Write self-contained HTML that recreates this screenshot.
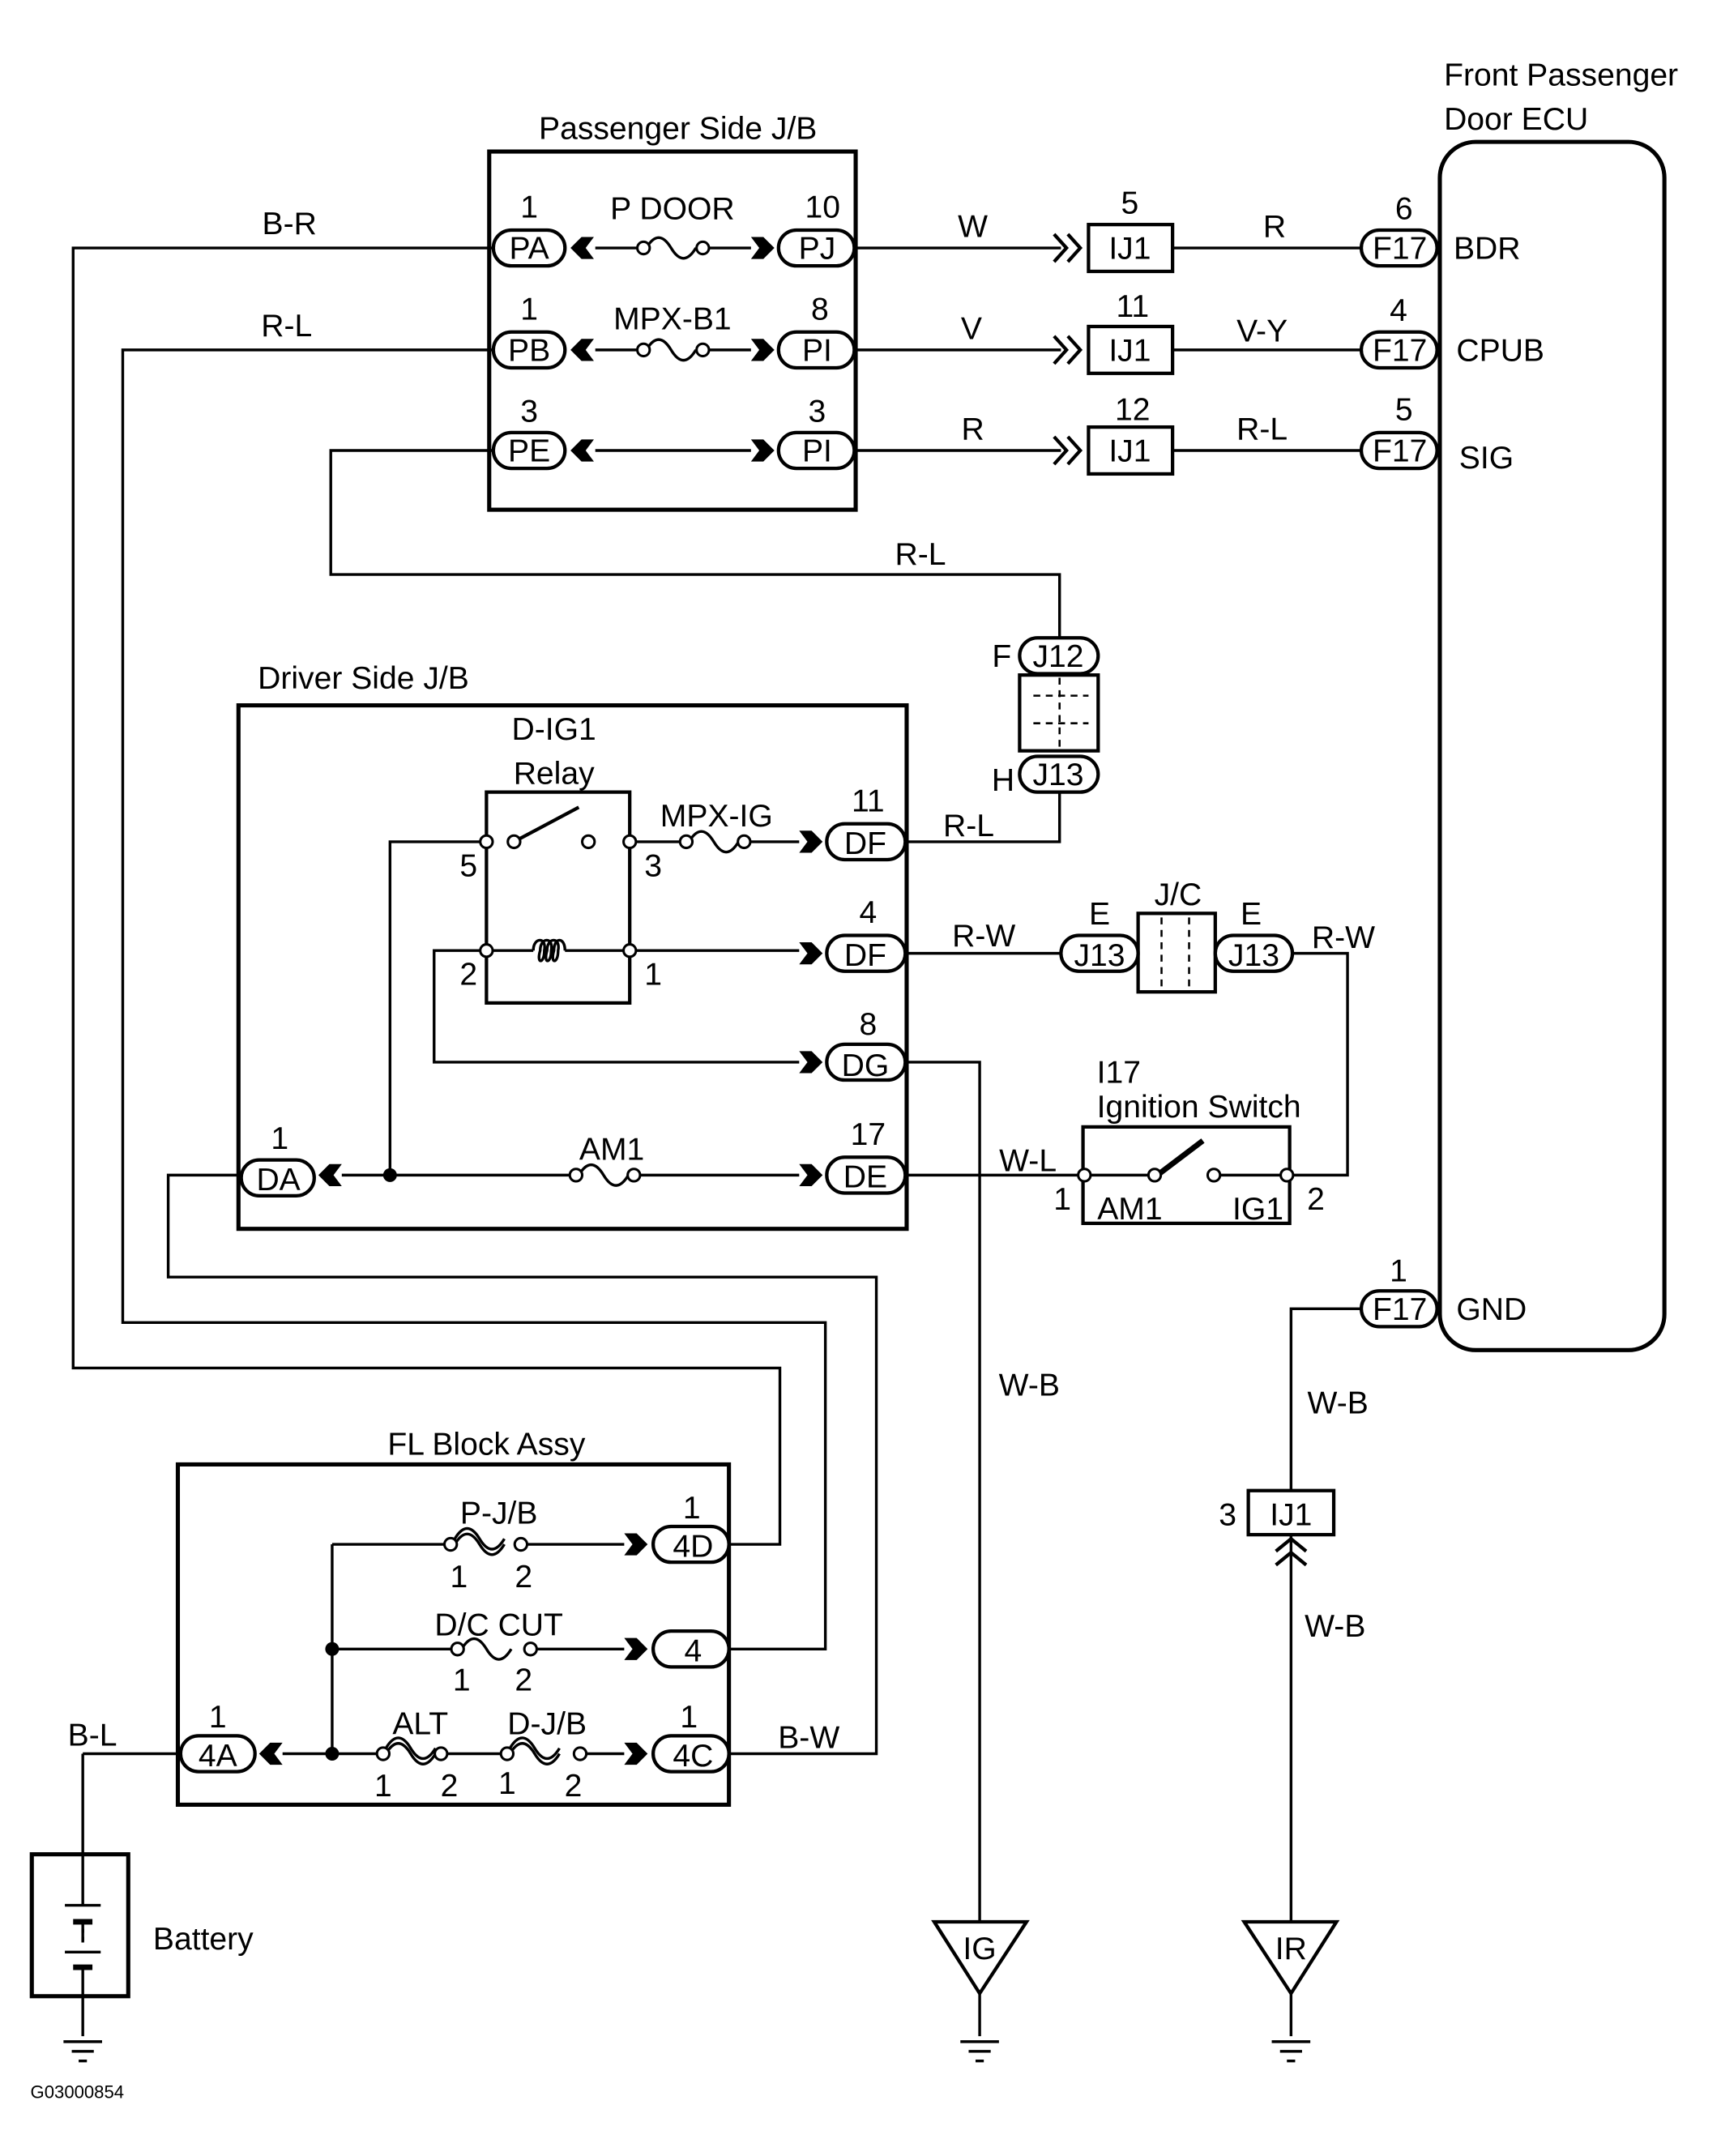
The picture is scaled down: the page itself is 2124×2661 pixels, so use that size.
<!DOCTYPE html>
<html><head><meta charset="utf-8"><style>
html,body{margin:0;padding:0;background:#fff;width:2124px;height:2661px;overflow:hidden}
svg{display:block}
text{font-family:"Liberation Sans",sans-serif;font-size:23px;fill:#000}
</style></head><body>
<svg width="2124" height="2661" viewBox="0 0 1249 1565" xmlns="http://www.w3.org/2000/svg">
<defs>
<polygon id="cr" points="0,-8 9,-8 17,0 9,8 0,8 6,0" fill="#000"/>
<polygon id="cl" points="17,-8 8,-8 0,0 8,8 17,8 11,0" fill="#000"/>
</defs>
<g fill="none" stroke="#000" stroke-width="2">
<rect x="355" y="110" width="266" height="260" stroke-width="3"/>
<rect x="1045" y="103" width="163" height="877" rx="26" stroke-width="3"/>
<rect x="173" y="512" width="485" height="380" stroke-width="3"/>
<rect x="129" y="1063" width="400" height="247" stroke-width="3"/>
<rect x="23" y="1346" width="70" height="103" stroke-width="3"/>
<rect x="786" y="818" width="150" height="70" stroke-width="2.5"/>
<path d="M353 575H457V728H353Z" stroke-width="2.5"/>
<path d="M358 180H53V993H566V1121H530"/>
<path d="M358 254H89V960H599V1197H530"/>
<path d="M358 327H240V417H769V463"/>
<path d="M621 180H770M851 180H988"/>
<path d="M621 254H770M851 254H988"/>
<path d="M621 327H770M851 327H988"/>
<path d="M765 170l9 10l-9 10M775 170l9 10l-9 10" stroke-width="2.5"/>
<path d="M765 244l9 10l-9 10M775 244l9 10l-9 10" stroke-width="2.5"/>
<path d="M765 317l9 10l-9 10M775 317l9 10l-9 10" stroke-width="2.5"/>
<rect x="790" y="163" width="61" height="34" stroke-width="2.5"/>
<rect x="790" y="237" width="61" height="34" stroke-width="2.5"/>
<rect x="790" y="310" width="61" height="34" stroke-width="2.5"/>
<path d="M432 180H463M512 180H545M432 254H463M512 254H545M432 327H545"/>
<rect x="740" y="490" width="57" height="55" stroke-width="2.5"/>
<path d="M750 505H790M750 525H790M769 492V543" stroke-dasharray="5 4" stroke-width="1.5"/>
<path d="M769 575V611H657"/>
<rect x="826" y="663" width="56" height="57" stroke-width="2.5"/>
<path d="M843 666V718M863 666V718" stroke-dasharray="5 4" stroke-width="1.5"/>
<path d="M657 692H770M938 692H978V853H936"/>
<path d="M248 853H415M462 853H580M283 853V611H353M457 611H495M540 611H580"/>
<path d="M353 690H387M410 690H457H580M353 690H315V771H580"/>
<path d="M373 611L420 586" stroke-width="2.5"/>
<path d="M387 690c0,-10 10,-10 8,0c0,10 -6,10 -3,0c0,-10 10,-10 8,0c0,10 -6,10 -3,0c0,-10 10,-10 8,0c0,10 -6,10 -3,0c0,-10 8,-10 8,0"/>
<path d="M657 771H711V1395"/>
<path d="M657 853H786"/>
<path d="M228 853H122V927H636V1273H530"/>
<path d="M787 853H836M880 853H934"/>
<path d="M840 853L873 828" stroke-width="4"/>
<path d="M988 950H937V1082M937 1114V1395"/>
<rect x="906" y="1082" width="62" height="32" stroke-width="2.5"/>
<path d="M926 1126l11 -9l11 9M926 1136l11 -9l11 9" stroke-width="2.5"/>
<path d="M241 1121V1273M241 1121H325M378 1121H453M241 1197H330M385 1197H453M205 1273H275M325 1273H365M423 1273H453"/>
<path d="M60 1273H129M60 1273V1383M60 1395V1410M60 1428V1478"/>
<path d="M47 1383H73M47 1417H73"/>
<path d="M53 1395H67M53 1428H67" stroke-width="4"/>
<path d="M60 1400V1412" stroke-dasharray="3 3"/>
<path d="M46 1482H74M52 1489H68M57 1496H63"/>
<path d="M711 1447V1478M697 1482H725M703 1489H719M708 1496H714"/>
<path d="M937 1447V1478M923 1482H951M929 1489H945M934 1496H940"/>
<polygon points="678,1395 745,1395 711,1447" stroke-width="2.5"/>
<polygon points="903,1395 970,1395 937,1447" stroke-width="2.5"/>
<path d="M469 180c6,-10 12,-10 18,0s12,10 18,0"/>
<path d="M469 254c6,-10 12,-10 18,0s12,10 18,0"/>
<path d="M500 611c6,-10 12,-10 18,0s12,10 18,0"/>
<path d="M420 853c6,-10 12,-10 18,0s12,10 18,0"/>
<path d="M330 1121c6,-10 12,-10 18,0s12,10 18,0M330 1117c6,-10 12,-10 18,0s12,10 18,0"/>
<path d="M335 1197c6,-10 12,-10 18,0s12,10 18,0"/>
<path d="M280 1273c6,-10 12,-10 18,0s12,10 18,0M280 1269c6,-10 12,-10 18,0s12,10 18,0"/>
<path d="M370 1273c6,-10 12,-10 18,0s12,10 18,0M370 1269c6,-10 12,-10 18,0s12,10 18,0"/>
<g stroke-width="2.5" fill="#fff">
<rect x="358" y="167" width="52" height="26" rx="13"/><rect x="565" y="167" width="55" height="26" rx="13"/>
<rect x="358" y="241" width="52" height="26" rx="13"/><rect x="565" y="241" width="55" height="26" rx="13"/>
<rect x="358" y="314" width="52" height="26" rx="13"/><rect x="565" y="314" width="55" height="26" rx="13"/>
<rect x="988" y="167" width="55" height="26" rx="13"/><rect x="988" y="241" width="55" height="26" rx="13"/>
<rect x="988" y="314" width="55" height="26" rx="13"/><rect x="988" y="937" width="55" height="26" rx="13"/>
<rect x="740" y="463" width="57" height="26" rx="13"/><rect x="740" y="549" width="57" height="26" rx="13"/>
<rect x="770" y="679" width="56" height="26" rx="13"/><rect x="882" y="679" width="56" height="26" rx="13"/>
<rect x="600" y="598" width="57" height="26" rx="13"/><rect x="600" y="679" width="57" height="26" rx="13"/>
<rect x="600" y="758" width="57" height="26" rx="13"/><rect x="600" y="840" width="57" height="26" rx="13"/>
<rect x="175" y="842" width="53" height="26" rx="13"/>
<rect x="474" y="1108" width="55" height="26" rx="13"/><rect x="474" y="1184" width="55" height="26" rx="13"/>
<rect x="474" y="1260" width="55" height="26" rx="13"/><rect x="131" y="1260" width="54" height="26" rx="13"/>
</g>
<g fill="#fff" stroke-width="1.8">
<circle cx="467" cy="180" r="4.5"/><circle cx="510" cy="180" r="4.5"/>
<circle cx="467" cy="254" r="4.5"/><circle cx="510" cy="254" r="4.5"/>
<circle cx="353" cy="611" r="4.5"/><circle cx="373" cy="611" r="4.5"/><circle cx="427" cy="611" r="4.5"/><circle cx="457" cy="611" r="4.5"/>
<circle cx="498" cy="611" r="4.5"/><circle cx="540" cy="611" r="4.5"/>
<circle cx="353" cy="690" r="4.5"/><circle cx="457" cy="690" r="4.5"/>
<circle cx="418" cy="853" r="4.5"/><circle cx="460" cy="853" r="4.5"/>
<circle cx="787" cy="853" r="4.5"/><circle cx="838" cy="853" r="4.5"/><circle cx="881" cy="853" r="4.5"/><circle cx="934" cy="853" r="4.5"/>
<circle cx="327" cy="1121" r="4.5"/><circle cx="378" cy="1121" r="4.5"/>
<circle cx="332" cy="1197" r="4.5"/><circle cx="385" cy="1197" r="4.5"/>
<circle cx="278" cy="1273" r="4.5"/><circle cx="320" cy="1273" r="4.5"/>
<circle cx="368" cy="1273" r="4.5"/><circle cx="421" cy="1273" r="4.5"/>
</g>
</g>
<g fill="#000">
<circle cx="283" cy="853" r="5"/><circle cx="241" cy="1197" r="5"/><circle cx="241" cy="1273" r="5"/>
</g>
<use href="#cl" x="414" y="180"/><use href="#cr" x="545" y="180"/>
<use href="#cl" x="414" y="254"/><use href="#cr" x="545" y="254"/>
<use href="#cl" x="414" y="327"/><use href="#cr" x="545" y="327"/>
<use href="#cr" x="580" y="611"/><use href="#cr" x="580" y="692"/><use href="#cr" x="580" y="771"/><use href="#cr" x="580" y="853"/>
<use href="#cl" x="231" y="853"/>
<use href="#cr" x="453" y="1121"/><use href="#cr" x="453" y="1197"/><use href="#cr" x="453" y="1273"/>
<use href="#cl" x="188" y="1273"/>
<g text-anchor="middle">
<text x="492" y="101">Passenger Side J/B</text>
<text x="384" y="188">PA</text><text x="593" y="188">PJ</text>
<text x="384" y="262">PB</text><text x="593" y="262">PI</text>
<text x="384" y="335">PE</text><text x="593" y="335">PI</text>
<text x="384" y="158">1</text><text x="597" y="158">10</text>
<text x="384" y="232">1</text><text x="595" y="232">8</text>
<text x="384" y="306">3</text><text x="593" y="306">3</text>
<text x="488" y="159">P DOOR</text><text x="488" y="239">MPX-B1</text>
<text x="820" y="188">IJ1</text><text x="820" y="262">IJ1</text><text x="820" y="335">IJ1</text>
<text x="820" y="155">5</text><text x="822" y="230">11</text><text x="822" y="305">12</text>
<text x="1016" y="188">F17</text><text x="1016" y="262">F17</text><text x="1016" y="335">F17</text><text x="1016" y="958">F17</text>
<text x="1019" y="159">6</text><text x="1015" y="233">4</text><text x="1019" y="305">5</text><text x="1015" y="930">1</text>
<text x="706" y="172">W</text><text x="925" y="172">R</text>
<text x="705" y="246">V</text><text x="916" y="248">V-Y</text>
<text x="706" y="319">R</text><text x="916" y="319">R-L</text>
<text x="210" y="170">B-R</text><text x="208" y="244">R-L</text>
<text x="668" y="410">R-L</text>
<text x="768" y="484">J12</text><text x="768" y="570">J13</text>
<text x="727" y="484">F</text><text x="728" y="574">H</text>
<text x="402" y="537">D-IG1</text><text x="402" y="569">Relay</text>
<text x="520" y="600">MPX-IG</text>
<text x="340" y="636">5</text><text x="474" y="636">3</text>
<text x="340" y="715">2</text><text x="474" y="715">1</text>
<text x="628" y="620">DF</text><text x="628" y="701">DF</text><text x="628" y="781">DG</text><text x="628" y="862">DE</text>
<text x="630" y="589">11</text><text x="630" y="670">4</text><text x="630" y="751">8</text><text x="630" y="831">17</text>
<text x="703" y="607">R-L</text><text x="714" y="687">R-W</text><text x="975" y="688">R-W</text>
<text x="798" y="701">J13</text><text x="910" y="701">J13</text>
<text x="798" y="671">E</text><text x="908" y="671">E</text><text x="855" y="657">J/C</text>
<text x="202" y="864">DA</text><text x="203" y="834">1</text>
<text x="444" y="842">AM1</text>
<text x="746" y="850">W-L</text>
<text x="820" y="885">AM1</text><text x="913" y="885">IG1</text>
<text x="771" y="878">1</text><text x="955" y="878">2</text>
<text x="747" y="1013">W-B</text>
<text x="971" y="1026">W-B</text><text x="969" y="1188">W-B</text>
<text x="937" y="1107">IJ1</text><text x="891" y="1107">3</text>
<text x="353" y="1056">FL Block Assy</text>
<text x="362" y="1106">P-J/B</text><text x="362" y="1187">D/C CUT</text>
<text x="305" y="1259">ALT</text><text x="397" y="1259">D-J/B</text>
<text x="333" y="1152">1</text><text x="380" y="1152">2</text>
<text x="335" y="1227">1</text><text x="380" y="1227">2</text>
<text x="278" y="1304">1</text><text x="326" y="1304">2</text><text x="368" y="1302">1</text><text x="416" y="1304">2</text>
<text x="503" y="1130">4D</text><text x="503" y="1206">4</text><text x="503" y="1282">4C</text>
<text x="502" y="1102">1</text><text x="500" y="1254">1</text>
<text x="158" y="1282">4A</text><text x="158" y="1254">1</text>
<text x="67" y="1267">B-L</text><text x="587" y="1269">B-W</text>
<text x="711" y="1422">IG</text><text x="937" y="1422">IR</text>
</g>
<text x="1048" y="62">Front Passenger</text>
<text x="1048" y="94">Door ECU</text>
<text x="1055" y="188">BDR</text><text x="1057" y="262">CPUB</text><text x="1059" y="340">SIG</text><text x="1057" y="958">GND</text>
<text x="187" y="500">Driver Side J/B</text>
<text x="796" y="786">I17</text><text x="796" y="811">Ignition Switch</text>
<text x="111" y="1415">Battery</text>
<text x="22" y="1523" style="font-size:13px">G03000854</text>
</svg>
</body></html>
